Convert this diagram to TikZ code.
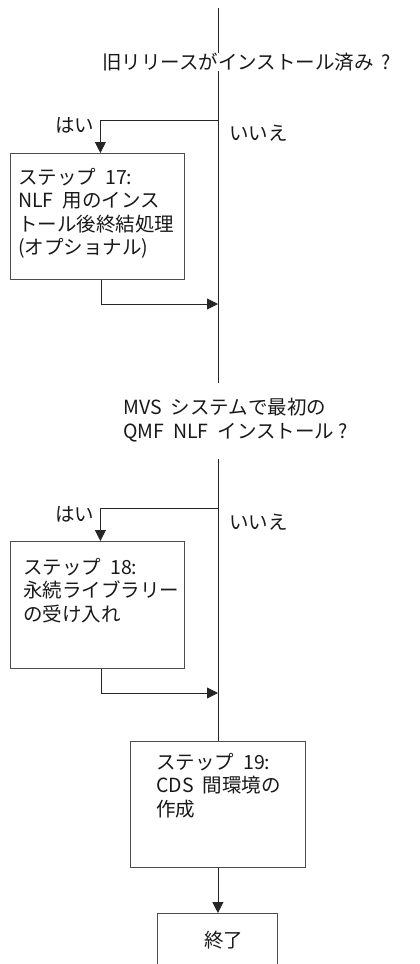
\documentclass[tikz,border=0pt]{standalone}
\usepackage{fontspec}
\setmainfont{Noto Sans CJK JP}
\usetikzlibrary{arrows.meta}
\newcommand\diagfont{\fontsize{19.5}{23.5}\selectfont\spaceskip=9pt\relax}
\begin{document}
\begin{tikzpicture}[x=1pt,y=-1pt,
  line/.style={draw=black!85,line width=0.8pt},
  arr/.style={line,-{Triangle[length=11pt,width=11pt]}},
  boxshape/.style={draw=black!70,line width=0.8pt,rectangle,inner sep=0pt,anchor=north west},
  txt/.style={font=\diagfont,inner sep=0pt,align=left,text=black!90},
  lbl/.style={txt,anchor=west}]
\useasboundingbox (0,0) rectangle (420,964);
\clip (0,0) rectangle (420,964);

% decision texts
\node[lbl] (q1) at (102,62) {旧リリースがインストール済み\hspace{8pt}?};
\node[txt,anchor=north west] (q2) at (123,398) {MVS システムで最初の\\QMF NLF インストール\hspace{4pt}?};

% boxes
\node[boxshape,minimum width=174pt,minimum height=126pt] (box1) at (10,153) {};
\node[boxshape,minimum width=174pt,minimum height=127pt] (box2) at (10,541) {};
\node[boxshape,minimum width=175pt,minimum height=126pt] (box3) at (130,741) {};
\node[boxshape,minimum width=120pt,minimum height=70pt] (endbox) at (157,913) {};

% box texts
\node[txt,anchor=north west] (t1) at (18,168) {ステップ 17:\\NLF 用のインス\\トール後終結処理\\(オプショナル)};
\node[txt,anchor=north west] (t2) at (23,558) {ステップ 18:\\永続ライブラリー\\の受け入れ};
\node[txt,anchor=north west] (t3) at (156,753) {ステップ 19:\\CDS 間環境の\\作成};
\node[lbl] (t4) at (204,940) {終了};

% branch labels
\node[lbl] (y1) at (55,125) {はい};
\node[lbl] (n1) at (229,133) {いいえ};
\node[lbl] (y2) at (55,514) {はい};
\node[lbl] (n2) at (229,522) {いいえ};

% coordinates
\coordinate (top) at (218,8);
\coordinate (j1) at (218,120);
\coordinate (m1) at (218,304);
\coordinate (q2top) at (218,383);
\coordinate (q2bot) at (218,459);
\coordinate (j2) at (218,508);
\coordinate (m2) at (218,693);

% main line
\draw[line] (top) -- (top |- q1.north);
\draw[line] (top |- q1.south) -- (q2top);
\draw[line] (q2bot) -- (top |- box3.north);

% branch 1
\draw[arr] (j1) -| ([xshift=3pt]box1.north);
\draw[arr] ([xshift=4pt]box1.south) |- (m1);
% branch 2
\draw[arr] (j2) -| ([xshift=3pt]box2.north);
\draw[arr] ([xshift=4pt]box2.south) |- (m2);
% to end
\draw[arr] (box3.south) -- (box3.south |- endbox.north);
\end{tikzpicture}
\end{document}
